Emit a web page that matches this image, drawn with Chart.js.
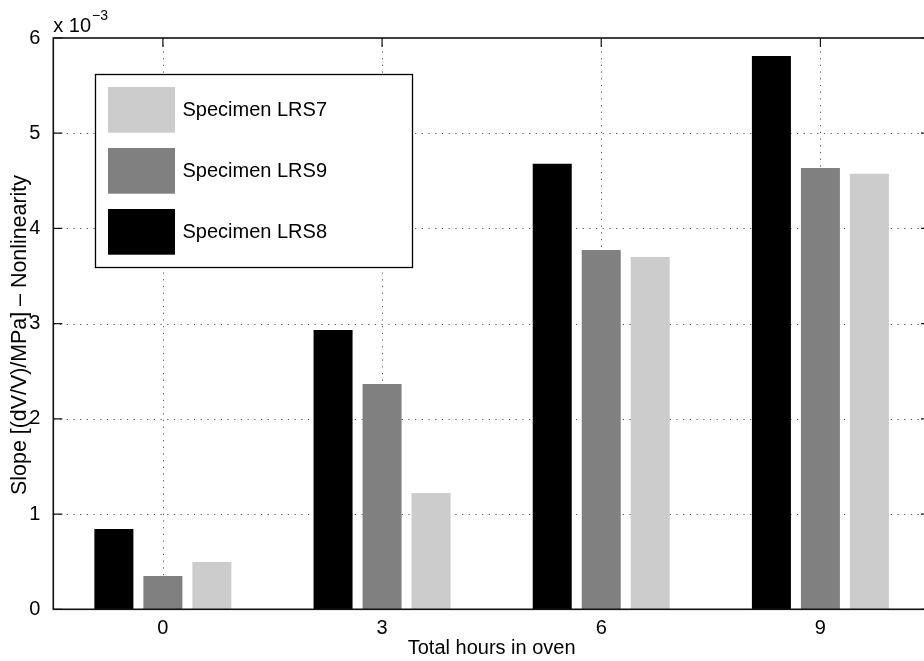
<!DOCTYPE html>
<html>
<head>
<meta charset="utf-8">
<script src="https://cdn.jsdelivr.net/npm/chart.js@4/dist/chart.umd.min.js"></script>
<style>
  html, body { margin: 0; padding: 0; background: #fff; overflow: hidden; }
  #wrap { width: 924px; height: 661px; overflow: hidden; position: relative; }
  canvas { display: block; }
</style>
</head>
<body>
<div id="wrap"><canvas id="c" width="940" height="661"></canvas></div>
<script>
// Oven exposure vs. nonlinearity slope (values in units of 1e-3)
const categories = ['0', '3', '6', '9'];
const seriesNames = ['Specimen LRS8', 'Specimen LRS9', 'Specimen LRS7'];
const lrs8 = [0.843, 2.934, 4.680, 5.810];
const lrs9 = [0.350, 2.367, 3.774, 4.636];
const lrs7 = [0.497, 1.222, 3.700, 4.573];
const seriesColors = ['#000000', '#808080', '#cccccc'];
const yTickValues = [0, 1, 2, 3, 4, 5, 6];
const xTitle = 'Total hours in oven';
const yTitle = 'Slope [(dV/V)/MPa] \u2013 Nonlinearity';
const expBase = 'x 10';
const expPower = '\u22123';

const FONT = '"Liberation Sans", Arial, Helvetica, sans-serif';
const DOT = [1.2, 5.5];

// dotted grid and inward tick marks, drawn underneath the bars
const gridPlugin = {
  id: 'dottedGrid',
  beforeDatasetsDraw(chart) {
    const { ctx, chartArea: a, scales: { x, y } } = chart;
    const tl = 9;
    ctx.save();
    ctx.strokeStyle = '#555';
    ctx.lineWidth = 1;
    ctx.setLineDash(DOT);
    yTickValues.slice(1, -1).forEach(v => {
      const py = Math.round(y.getPixelForValue(v)) + 0.5;
      ctx.beginPath(); ctx.moveTo(a.left, py); ctx.lineTo(a.right, py); ctx.stroke();
    });
    categories.forEach((c, i) => {
      const px = Math.round(x.getPixelForValue(i)) + 0.5;
      ctx.beginPath(); ctx.moveTo(px, a.top); ctx.lineTo(px, a.bottom); ctx.stroke();
    });
    ctx.setLineDash([]);
    ctx.strokeStyle = '#111';
    ctx.lineWidth = 1.2;
    yTickValues.forEach(v => {
      const py = y.getPixelForValue(v);
      ctx.beginPath();
      ctx.moveTo(a.left, py); ctx.lineTo(a.left + tl, py);
      ctx.moveTo(a.right, py); ctx.lineTo(a.right - tl, py);
      ctx.stroke();
    });
    categories.forEach((c, i) => {
      const px = x.getPixelForValue(i);
      ctx.beginPath();
      ctx.moveTo(px, a.top); ctx.lineTo(px, a.top + tl);
      ctx.moveTo(px, a.bottom); ctx.lineTo(px, a.bottom - tl);
      ctx.stroke();
    });
    ctx.restore();
  }
};

// axes box
const framePlugin = {
  id: 'frame',
  afterDatasetsDraw(chart) {
    const { ctx, chartArea: a } = chart;
    ctx.save();
    ctx.strokeStyle = '#111';
    ctx.lineWidth = 1.6;
    ctx.strokeRect(a.left, a.top, a.right - a.left, a.bottom - a.top);
    ctx.restore();
  }
};

// legend box (series listed in reverse order), exponent and y-axis title
const decorPlugin = {
  id: 'decor',
  afterDraw(chart) {
    const { ctx, chartArea: a } = chart;
    ctx.save();
    // legend
    const bx = 95.5, by = 74.5, bw = 317, bh = 193;
    ctx.fillStyle = '#fff';
    ctx.fillRect(bx, by, bw, bh);
    ctx.strokeStyle = '#000';
    ctx.lineWidth = 1.3;
    ctx.strokeRect(bx, by, bw, bh);
    const ds = chart.data.datasets.slice().reverse();
    ctx.font = '20px ' + FONT;
    ctx.textBaseline = 'middle';
    ctx.textAlign = 'left';
    ds.forEach((d, i) => {
      const sy = 87 + i * 61;
      ctx.fillStyle = d.backgroundColor;
      ctx.fillRect(108, sy, 67, 45.7);
      ctx.fillStyle = '#000';
      ctx.fillText(d.label, 182.5, sy + 23.5);
    });
    // exponent label
    ctx.textBaseline = 'alphabetic';
    ctx.font = '20px ' + FONT;
    ctx.fillText(expBase, a.left, 31.7);
    const w = ctx.measureText(expBase).width;
    ctx.font = '14px ' + FONT;
    ctx.fillText(expPower, a.left + w + 1, 20);
    // y title
    ctx.font = '21.4px ' + FONT;
    ctx.textAlign = 'center';
    ctx.textBaseline = 'middle';
    ctx.translate(20, 335);
    ctx.rotate(-Math.PI / 2);
    ctx.fillText(yTitle, 0, 0);
    ctx.restore();
  }
};

new Chart(document.getElementById('c'), {
  type: 'bar',
  data: {
    labels: categories,
    datasets: [
      { label: seriesNames[0], data: lrs8, backgroundColor: seriesColors[0] },
      { label: seriesNames[1], data: lrs9, backgroundColor: seriesColors[1] },
      { label: seriesNames[2], data: lrs7, backgroundColor: seriesColors[2] }
    ]
  },
  options: {
    responsive: false,
    devicePixelRatio: 1,
    animation: false,
    categoryPercentage: 0.6707,
    barPercentage: 0.796,
    layout: { padding: { left: 0, top: 38, right: 10, bottom: 0 } },
    plugins: { legend: { display: false }, tooltip: { enabled: false } },
    scales: {
      x: {
        grid: { display: false },
        border: { display: false },
        ticks: { color: '#000', font: { family: FONT, size: 20 }, padding: -1, maxRotation: 0 },
        title: { display: true, text: xTitle, color: '#000', font: { family: FONT, size: 20 }, padding: { top: 0, bottom: 0.5 } },
        afterFit(s) { s.height = 51.7; }
      },
      y: {
        min: 0, max: 6,
        grid: { display: false },
        border: { display: false },
        ticks: {
          stepSize: 1, color: '#000', padding: 5,
          font: { family: FONT, size: 20 },
          callback: v => (yTickValues.includes(v) ? String(v) : '')
        },
        afterFit(s) { s.width = 53.3; }
      }
    }
  },
  plugins: [gridPlugin, framePlugin, decorPlugin]
});
</script>
</body>
</html>
